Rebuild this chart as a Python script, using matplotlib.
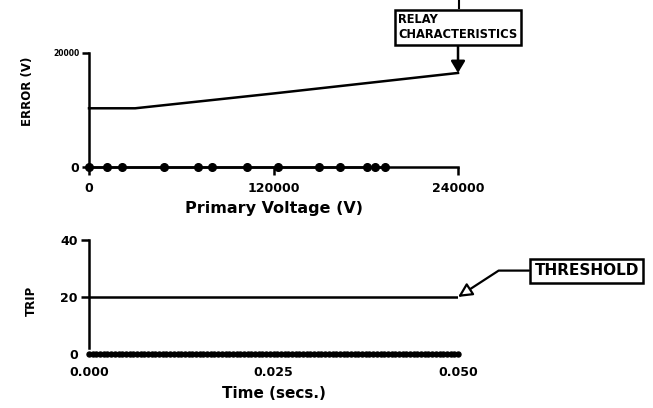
import numpy as np
import matplotlib
matplotlib.use("Agg")
import matplotlib.pyplot as plt

plt.rcParams['font.family'] = ['DejaVu Sans']
plt.rcParams['font.weight'] = 'bold'

# relay characteristic: error vs primary voltage
char_volts = [0, 30000, 120000, 240000]
char_error = [10300, 10300, 12900, 16500]

# measured points sitting on the zero-error line
meas_volts = [0, 11700, 21500, 48800, 70900, 80000, 102800, 122900,
              149600, 163300, 180800, 186000, 192500]
meas_error = [0] * len(meas_volts)

# trip signal vs time
thresh_time = [0.0, 0.05]
thresh_level = [20, 20]
trip_time = np.linspace(0.0, 0.05, 101)
trip_state = np.zeros(len(trip_time))

fig = plt.figure(figsize=(6.53, 4.08), dpi=100)
ax1 = fig.add_axes([0.1363, 0.5907, 0.5651, 0.2794])
ax2 = fig.add_axes([0.1363, 0.1324, 0.5651, 0.2794])

for ax in (ax1, ax2):
    ax.spines['top'].set_visible(False)
    ax.spines['right'].set_visible(False)
    ax.spines['left'].set_linewidth(1.8)
    ax.spines['bottom'].set_linewidth(1.8)

# ---- top panel
ax1.plot(char_volts, char_error, color='black', lw=1.8, clip_on=False)
ax1.plot(meas_volts, meas_error, color='black', lw=1.8, marker='o', ms=5.5,
         clip_on=False, zorder=3)
ax1.set_xlim(0, 240000)
ax1.set_ylim(0, 20000)
ax1.set_xticks([0, 120000, 240000])
ax1.set_xticklabels(['0', '120000', '240000'], fontsize=9, fontweight='bold')
ax1.set_yticks([0, 20000])
ax1.set_yticklabels(['0', '20000'], fontweight='bold')
ylabs = ax1.get_yticklabels()
ylabs[0].set_fontsize(9)
ylabs[1].set_fontsize(5.5)
ax1.tick_params(axis='x', direction='out', length=6, width=1.8, pad=5)
ax1.tick_params(axis='y', direction='out', length=5, width=1.8, pad=2)
ax1.set_xlabel('Primary Voltage (V)', fontsize=11.5, fontweight='bold')
ax1.xaxis.set_label_coords(0.5, -0.30)
ax1.set_ylabel('ERROR (V)', fontsize=8.5, fontweight='bold')
ax1.yaxis.set_label_coords(-0.15, 0.66)

ax1.annotate('RELAY\nCHARACTERISTICS', xy=(240000, char_error[-1]),
             xytext=(0, 33), textcoords='offset points',
             ha='center', va='center', multialignment='left',
             fontsize=8.3, fontweight='bold', annotation_clip=False,
             bbox=dict(boxstyle='square,pad=0.3', fc='white', ec='black', lw=1.8),
             arrowprops=dict(arrowstyle='-|>,head_length=0.5,head_width=0.3',
                             color='black', lw=1.8, mutation_scale=14,
                             shrinkA=0, shrinkB=0))
# lead line running up from the label box
fig.add_artist(plt.Line2D([459 / 653, 459 / 653], [1 - 8 / 408, 1.0],
                          color='black', lw=1.5))

# ---- bottom panel
ax2.plot(thresh_time, thresh_level, color='black', lw=1.8)
ax2.plot(trip_time, trip_state, ls='none', marker='o', ms=3.6,
         color='black', clip_on=False, zorder=3)
ax2.set_xlim(0, 0.05)
ax2.set_ylim(0, 40)
ax2.spines['bottom'].set_visible(False)
ax2.spines['left'].set_bounds(2, 40)
ax2.set_xticks([0.0, 0.025, 0.05])
ax2.set_xticklabels(['0.000', '0.025', '0.050'], fontsize=9, fontweight='bold')
ax2.set_yticks([0, 20, 40])
ax2.set_yticklabels(['0', '20', '40'], fontsize=9, fontweight='bold')
ax2.tick_params(axis='x', length=0, pad=9)
ax2.tick_params(axis='y', direction='out', length=6, width=1.8, pad=2)
ax2.yaxis.get_major_ticks()[0].tick1line.set_visible(False)
ax2.set_xlabel('Time (secs.)', fontsize=11, fontweight='bold')
ax2.xaxis.set_label_coords(0.5, -0.28)
ax2.set_ylabel('TRIP', fontsize=8.5, fontweight='bold')
ax2.yaxis.set_label_coords(-0.138, 0.47)

ax2.annotate('THRESHOLD', xy=(0.05, thresh_level[-1]),
             xytext=(55, 19), textcoords='offset points',
             ha='left', va='center', fontsize=11, fontweight='bold',
             annotation_clip=False,
             bbox=dict(boxstyle='square,pad=0.3', fc='white', ec='black', lw=1.8),
             arrowprops=dict(arrowstyle='-|>,head_length=0.6,head_width=0.3',
                             fc='white', ec='black', lw=1.6, mutation_scale=14,
                             connectionstyle='angle,angleA=0,angleB=33,rad=0',
                             shrinkA=0, shrinkB=0))

fig.savefig('out.png', dpi=100)
